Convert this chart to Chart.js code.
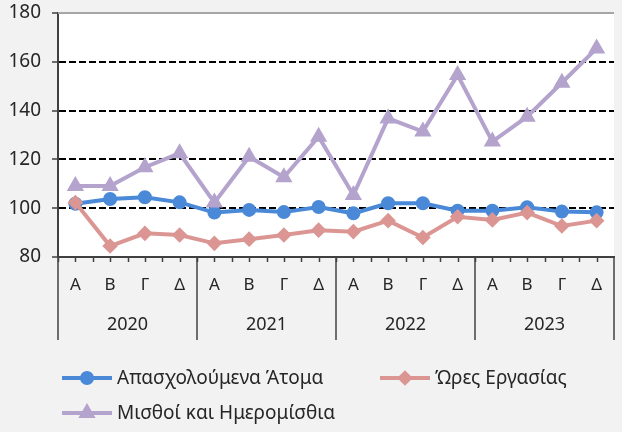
<!DOCTYPE html>
<html>
<head>
<meta charset="utf-8">
<script src="https://cdn.jsdelivr.net/npm/chart.js@4/dist/chart.umd.min.js"></script>
<style>
  html, body { margin: 0; padding: 0; background: #f2f2f2; overflow: hidden; }
  #wrap { width: 624px; height: 432px; }
</style>
</head>
<body>
<div id="wrap"><canvas id="c" width="624" height="432"></canvas></div>
<script>
const quarters = ['Α', 'Β', 'Γ', 'Δ', 'Α', 'Β', 'Γ', 'Δ', 'Α', 'Β', 'Γ', 'Δ', 'Α', 'Β', 'Γ', 'Δ'];
const years = ['2020', '2021', '2022', '2023'];
const yTicks = [80, 100, 120, 140, 160, 180];

const seriesNames = ['Απασχολούμενα Άτομα', 'Ώρες Εργασίας', 'Μισθοί και Ημερομίσθια'];
const employed = [101.8, 103.8, 104.5, 102.4, 98.2, 99.3, 98.4, 100.5, 97.9, 102.0, 102.0, 99.0, 99.0, 100.4, 98.6, 98.3];
const hours = [102.3, 84.5, 89.7, 89.0, 85.6, 87.3, 89.0, 91.0, 90.4, 94.9, 88.0, 96.5, 95.2, 98.2, 92.7, 94.9];
const wages = [109.1, 109.1, 116.8, 122.5, 102.3, 121.1, 112.7, 129.3, 105.4, 136.8, 131.4, 154.6, 127.3, 137.5, 151.4, 165.5];

const FONT = '"Noto Sans", "DejaVu Sans", sans-serif';
const TXT = '#262626';

// labels, ticks and legend that Excel draws and Chart.js doesn't
const decor = {
  id: 'decor',
  beforeDraw(chart) {
    const { ctx, chartArea: a } = chart;
    ctx.save();
    ctx.fillStyle = '#fff';
    ctx.fillRect(a.left, a.top, a.right - a.left, a.bottom - a.top);
    ctx.restore();
  },
  afterDraw(chart) {
    const { ctx, chartArea: a } = chart;
    const x = chart.scales.x;
    const half = (x.getPixelForValue(1) - x.getPixelForValue(0)) / 2;
    ctx.save();
    // top border
    ctx.strokeStyle = '#a6a6a6';
    ctx.lineWidth = 2;
    ctx.beginPath();
    ctx.moveTo(a.left, a.top);
    ctx.lineTo(a.right, a.top);
    ctx.stroke();
    // small ticks under the axis
    ctx.strokeStyle = '#404040';
    ctx.lineWidth = 1.5;
    for (let i = 0; i < quarters.length; i++) {
      const c = x.getPixelForValue(i);
      [c - half, c].forEach(px => {
        ctx.beginPath();
        ctx.moveTo(Math.round(px) + 0.5, a.bottom);
        ctx.lineTo(Math.round(px) + 0.5, a.bottom + 5);
        ctx.stroke();
      });
    }
    // year separators
    for (let k = 0; k <= years.length; k++) {
      const px = k < years.length ? x.getPixelForValue(k * 4) - half : x.getPixelForValue(quarters.length - 1) + half;
      ctx.beginPath();
      ctx.moveTo(Math.round(px), a.bottom);
      ctx.lineTo(Math.round(px), 340);
      ctx.stroke();
    }
    // labels
    ctx.fillStyle = TXT;
    ctx.textAlign = 'center';
    ctx.textBaseline = 'middle';
    ctx.font = '17px ' + FONT;
    quarters.forEach((q, i) => ctx.fillText(q, x.getPixelForValue(i), 285));
    ctx.font = '18px ' + FONT;
    years.forEach((y, k) => {
      const px = (x.getPixelForValue(k * 4) + x.getPixelForValue(k * 4 + 3)) / 2;
      ctx.fillText(y, px, 325);
    });
    // legend
    const items = [[0, 62, 378], [1, 380, 378], [2, 62, 413]];
    ctx.textAlign = 'left';
    ctx.font = '19px ' + FONT;
    items.forEach(([di, lx, ly]) => {
      const ds = chart.data.datasets[di];
      ctx.strokeStyle = ds.borderColor;
      ctx.lineWidth = 4;
      ctx.beginPath();
      ctx.moveTo(lx, ly);
      ctx.lineTo(lx + 50, ly);
      ctx.stroke();
      Chart.helpers.drawPoint(ctx, {
        pointStyle: ds.pointStyle, radius: ds.pointRadius, borderWidth: 1, rotation: 0
      }, lx + 25, ly);
      ctx.fillStyle = ds.borderColor;
      ctx.fill();
      ctx.fillStyle = TXT;
      ctx.fillText(ds.label, lx + 55, ly + 1);
    });
    ctx.restore();
  }
};

const mk = (label, data, color, style, r, order) => ({
  label, data, order,
  borderColor: color,
  backgroundColor: color,
  pointBackgroundColor: color,
  pointBorderColor: color,
  borderWidth: 4,
  pointStyle: style,
  pointRadius: r,
  pointHoverRadius: r,
  tension: 0
});

new Chart(document.getElementById('c'), {
  type: 'line',
  data: {
    labels: quarters.map((q, i) => q + ' ' + years[Math.floor(i / 4)]),
    datasets: [
      mk(seriesNames[0], employed, '#4a89d8', 'circle', 5, 2),
      mk(seriesNames[1], hours, '#db9694', 'rectRot', 5, 1),
      mk(seriesNames[2], wages, '#b4a3cc', 'triangle', 6, 0)
    ]
  },
  options: {
    responsive: false,
    animation: false,
    layout: { padding: { top: 13, right: 0, left: 0, bottom: 0 } },
    plugins: { legend: { display: false }, tooltip: { enabled: false } },
    scales: {
      x: {
        offset: true,
        ticks: { display: false },
        grid: { display: false },
        border: { display: true, color: '#404040', width: 2 },
        afterFit: s => { s.height = 175; }
      },
      y: {
        min: 80,
        max: 180,
        afterBuildTicks: s => { s.ticks = yTicks.map(v => ({ value: v })); },
        ticks: { color: TXT, font: { family: FONT, size: 19 }, padding: 11 },
        grid: {
          color: c => (c.tick && c.tick.value > 80 && c.tick.value < 180) ? '#000' : 'rgba(0,0,0,0)',
          lineWidth: 2,
          tickColor: '#404040',
          tickWidth: 1.5,
          tickLength: 6
        },
        border: { display: true, color: '#404040', width: 2, dash: [7, 3] },
        afterFit: s => { s.width = 58; s.paddingTop = 0; s.paddingBottom = 0; }
      }
    }
  },
  plugins: [decor]
});
</script>
</body>
</html>
